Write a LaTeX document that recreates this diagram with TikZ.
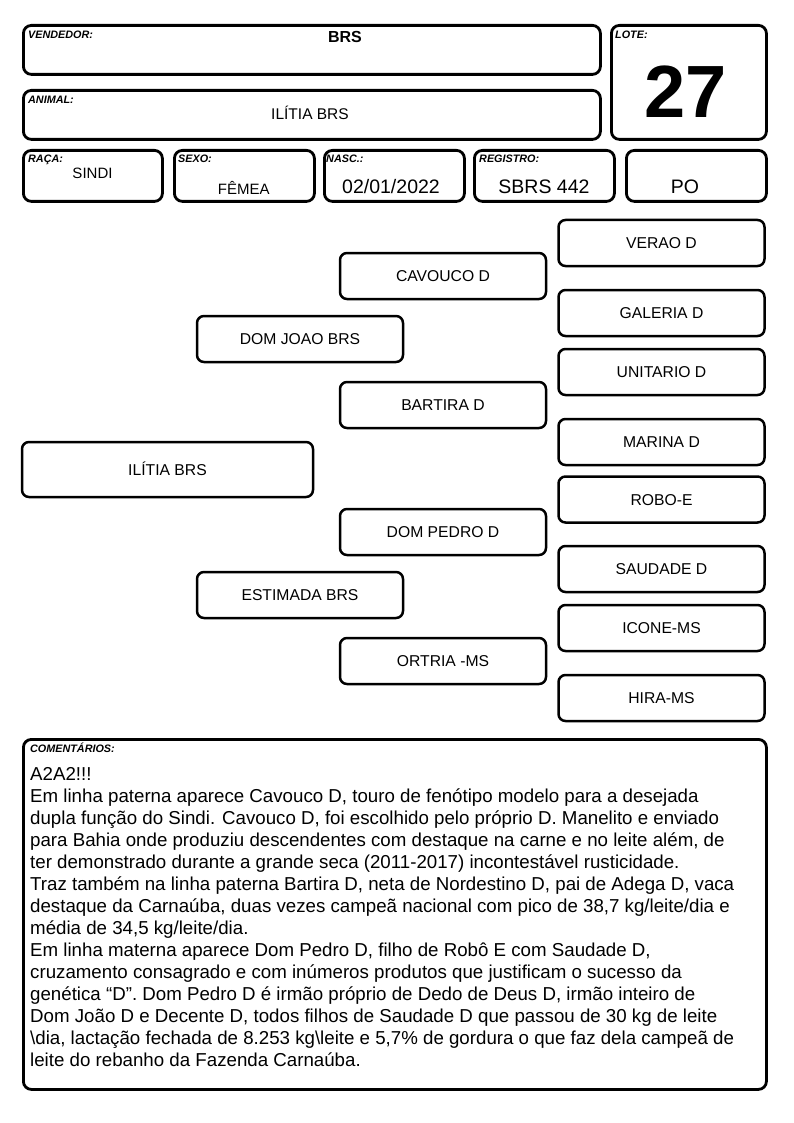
\documentclass[tikz,border=0pt]{standalone}
\usepackage{fontspec}
\setmainfont{Liberation Sans}
\begin{document}
\begin{tikzpicture}[x=1pt,y=-1pt,
  box/.style={draw, line width=2.8pt, rounded corners=8pt, inner sep=0pt, anchor=north west},
  lab/.style={font=\fontsize{10.8}{12}\selectfont\bfseries\itshape, anchor=base west, inner sep=0pt},
  val/.style={anchor=base, inner sep=0pt},
  ped/.style={draw, line width=2.5pt, rounded corners=7pt, minimum width=206pt, minimum height=46pt,
    font=\fontsize{15.7}{18}\selectfont, text height=11pt, text depth=0pt, inner sep=0pt},
  ctext/.style={anchor=base west, inner sep=0pt, font=\fontsize{18.7}{22}\selectfont}]
\useasboundingbox (0,0) rectangle (794,1123);
% header boxes
\node[box, minimum width=577pt, minimum height=49pt] (vend) at (22,24) {};
\node[box, minimum width=577pt, minimum height=49pt] (animal) at (22,89) {};
\node[box, minimum width=155pt, minimum height=114pt] (lote) at (610,24) {};
\node[box, minimum width=139pt, minimum height=51pt] (raca) at (22,149) {};
\node[box, minimum width=140pt, minimum height=51pt] (sexo) at (173,149) {};
\node[box, minimum width=140pt, minimum height=51pt] (nasc) at (323,149) {};
\node[box, minimum width=140pt, minimum height=51pt] (reg) at (473,149) {};
\node[box, minimum width=140pt, minimum height=51pt] (po) at (625,149) {};
% header labels
\node[lab] (lvend) at (28,39) {VENDEDOR:};
\node[val, font=\fontsize{16}{18}\selectfont\bfseries] (tvend) at (345,43) {BRS};
\node[lab] (lanimal) at (28,104) {ANIMAL:};
\node[val, font=\fontsize{15.5}{18}\selectfont] (tanimal) at (310,119.5) {ILÍTIA BRS};
\node[lab] (llote) at (615,39) {LOTE:};
\node[val, font=\fontsize{74}{80}\selectfont\bfseries] (tlote) at (686,118) {27};
\node[lab] (lraca) at (28,162.5) {RAÇA:};
\node[val, font=\fontsize{15}{18}\selectfont] (traca) at (92.5,178.3) {SINDI};
\node[lab] (lsexo) at (178,162.5) {SEXO:};
\node[val, font=\fontsize{15}{18}\selectfont] (tsexo) at (243.7,194.3) {FÊMEA};
\node[lab] (lnasc) at (326,162.5) {NASC.:};
\node[val, font=\fontsize{19.5}{22}\selectfont] (tnasc) at (391,193.3) {02/01/2022};
\node[lab] (lreg) at (479,162.5) {REGISTRO:};
\node[val, font=\fontsize{19.5}{22}\selectfont] (treg) at (544,193.3) {SBRS 442};
\node[val, font=\fontsize{19.5}{22}\selectfont] (tpo) at (685,193.3) {PO};
% pedigree
\node[ped, minimum width=291pt, minimum height=55pt] (ani) at (167.5,469.5) {ILÍTIA BRS};
\node[ped] (pai) at (300,339) {DOM JOAO BRS};
\node[ped] (mae) at (300,595) {ESTIMADA BRS};
\node[ped] (avp) at (443,276) {CAVOUCO D};
\node[ped] (avpm) at (443,405) {BARTIRA D};
\node[ped] (avm) at (443,532) {DOM PEDRO D};
\node[ped] (avmm) at (443,661) {ORTRIA -MS};
\node[ped] (b1) at (661.5,243) {VERAO D};
\node[ped] (b2) at (661.5,313) {GALERIA D};
\node[ped] (b3) at (661.5,372) {UNITARIO D};
\node[ped] (b4) at (661.5,442) {MARINA D};
\node[ped] (b5) at (661.5,499.5) {ROBO-E};
\node[ped] (b6) at (661.5,569) {SAUDADE D};
\node[ped] (b7) at (661.5,628) {ICONE-MS};
\node[ped] (b8) at (661.5,698) {HIRA-MS};
% comments
\node[box, minimum width=743pt, minimum height=350pt] (com) at (22,738) {};
\node[lab] (lcom) at (30,752) {COMENTÁRIOS:};
\node[ctext] (c0) at (30,780) {A2A2!!!};
\node[ctext] (c1) at (30,802) {Em linha paterna aparece Cavouco D, touro de fenótipo modelo para a desejada};
\node[ctext] (c2) at (30,824) {dupla função do Sindi. Cavouco D, foi escolhido pelo próprio D. Manelito e enviado};
\node[ctext] (c3) at (30,846) {para Bahia onde produziu descendentes com destaque na carne e no leite além, de};
\node[ctext] (c4) at (30,868) {ter demonstrado durante a grande seca (2011-2017) incontestável rusticidade.};
\node[ctext] (c5) at (30,890) {Traz também na linha paterna Bartira D, neta de Nordestino D, pai de Adega D, vaca};
\node[ctext] (c6) at (30,912) {destaque da Carnaúba, duas vezes campeã nacional com pico de 38,7 kg/leite/dia e};
\node[ctext] (c7) at (30,934) {média de 34,5 kg/leite/dia.};
\node[ctext] (c8) at (30,956) {Em linha materna aparece Dom Pedro D, filho de Robô E com Saudade D,};
\node[ctext] (c9) at (30,978) {cruzamento consagrado e com inúmeros produtos que justificam o sucesso da};
\node[ctext] (c10) at (30,1000) {genética “D”. Dom Pedro D é irmão próprio de Dedo de Deus D, irmão inteiro de};
\node[ctext] (c11) at (30,1022) {Dom João D e Decente D, todos filhos de Saudade D que passou de 30 kg de leite};
\node[ctext] (c12) at (30,1044) {\textbackslash dia, lactação fechada de 8.253 kg\textbackslash leite e 5,7\% de gordura o que faz dela campeã de};
\node[ctext] (c13) at (30,1066) {leite do rebanho da Fazenda Carnaúba.};
\end{tikzpicture}
\end{document}
